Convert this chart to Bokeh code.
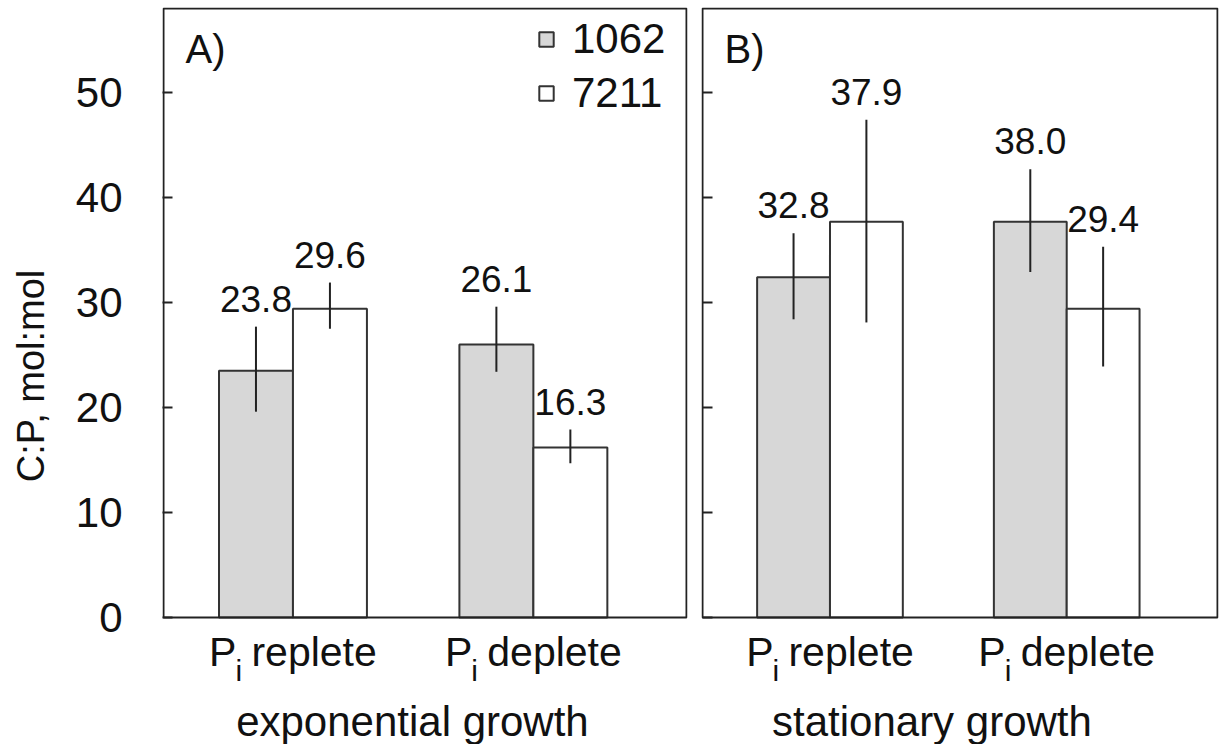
from bokeh.plotting import figure
from bokeh.models import (ColumnDataSource, LabelSet, Legend, LegendItem,
                          Range1d, FixedTicker, BoxAnnotation)
from bokeh.layouts import row
from bokeh.embed import file_html
from bokeh.resources import INLINE
from bokeh.core.properties import value

# ---------------- data ----------------
panel_letters = ["A)", "B)"]
growth_phases = ["exponential growth", "stationary growth"]
conditions = ["replete", "deplete"]
strains = ["1062", "7211"]
y_ticks = [0, 10, 20, 30, 40, 50]

# panel A: exponential growth (bar height, error low, error high, printed value)
a_1062 = [23.5, 26.0]
a_1062_lo = [19.6, 23.4]
a_1062_hi = [27.7, 29.6]
a_1062_txt = ["23.8", "26.1"]
a_7211 = [29.4, 16.2]
a_7211_lo = [27.5, 14.7]
a_7211_hi = [31.9, 17.9]
a_7211_txt = ["29.6", "16.3"]

# panel B: stationary growth
b_1062 = [32.4, 37.7]
b_1062_lo = [28.4, 32.9]
b_1062_hi = [36.6, 42.7]
b_1062_txt = ["32.8", "38.0"]
b_7211 = [37.7, 29.4]
b_7211_lo = [28.1, 23.9]
b_7211_hi = [47.4, 35.3]
b_7211_txt = ["37.9", "29.4"]

# ---------------- style / layout ----------------
FONT = "Liberation Sans"
TXT = "#111111"
GREY = "#d7d7d7"
EDGE = "#333333"
FRAME = "#222222"
GROUP_X = [1.75, 5.0]
BAR_W = 1.0
X_MAX = 7.07
Y_MAX = 58
PPY = 10.5            # px per y unit
ZERO_FROM_TOP = 610   # px from frame top to y = 0
BELOW_ZERO = 127      # px from y = 0 down to the canvas bottom
TOP = 7
H = 744

ADV = {'P': 0.667, 'r': 0.333, 'e': 0.556, 'p': 0.556, 'l': 0.222,
       't': 0.278, 'd': 0.556, 'i': 0.222, ' ': 0.278}


def text_w(s, size):
    return sum(ADV.get(c, 0.55) for c in s) * size


def labels(p, xs, ys, texts, size, align="left", x_off=0, y_off=0):
    src = ColumnDataSource(dict(x=xs, y=ys, t=texts))
    p.add_layout(LabelSet(x="x", y="y", text="t", source=src,
                          x_offset=x_off, y_offset=y_off,
                          text_align=align, text_baseline="alphabetic",
                          text_font=value(FONT), text_font_size=value(f"{size}px"),
                          text_color=TXT))


def make_panel(k, h1, lo1, hi1, t1, h2, lo2, hi2, t2, left, box_w, right, title_x):
    ppx = box_w / X_MAX
    p = figure(width=left + box_w + 2 + right, height=H,
               x_range=Range1d(-1 / ppx, X_MAX + 1 / ppx),
               y_range=Range1d(-BELOW_ZERO / PPY, ZERO_FROM_TOP / PPY),
               output_backend="svg", toolbar_location=None,
               x_axis_location=None,
               y_axis_location="left" if k == 0 else None,
               min_border_left=left, min_border_right=right,
               min_border_top=TOP, min_border_bottom=0)
    p.grid.visible = False
    p.outline_line_color = None
    p.background_fill_color = "white"
    p.border_fill_color = "white"

    if k == 0:
        ax = p.yaxis[0]
        ax.ticker = FixedTicker(ticks=y_ticks)
        ax.bounds = (-3.3, Y_MAX)
        ax.major_tick_in = 10
        ax.major_tick_out = 0
        ax.minor_tick_line_color = None
        ax.major_tick_line_color = FRAME
        ax.major_tick_line_width = 2
        ax.axis_line_color = None
        ax.major_label_text_font = FONT
        ax.major_label_text_font_size = "42px"
        ax.major_label_text_color = TXT
        ax.major_label_standoff = 40
        ax.axis_label = "C:P, mol:mol"
        ax.axis_label_text_font = FONT
        ax.axis_label_text_font_size = "38px"
        ax.axis_label_text_font_style = "normal"
        ax.axis_label_text_color = TXT
        ax.axis_label_standoff = 21
    else:
        # inward tick marks only, no labels
        p.segment(x0=[0] * len(y_ticks), x1=[10 / ppx] * len(y_ticks),
                  y0=y_ticks, y1=y_ticks, line_color=FRAME, line_width=2)

    x1 = [g - BAR_W / 2 for g in GROUP_X]
    x2 = [g + BAR_W / 2 for g in GROUP_X]
    s1 = ColumnDataSource(dict(x=x1, top=h1, lo=lo1, hi=hi1, txt=t1))
    s2 = ColumnDataSource(dict(x=x2, top=h2, lo=lo2, hi=hi2, txt=t2))

    r1 = p.vbar(x="x", top="top", bottom=0, width=BAR_W, source=s1,
                fill_color=GREY, line_color=EDGE, line_width=2)
    r2 = p.vbar(x="x", top="top", bottom=0, width=BAR_W, source=s2,
                fill_color="white", line_color=EDGE, line_width=2)
    for s in (s1, s2):
        p.segment(x0="x", y0="lo", x1="x", y1="hi", source=s,
                  line_color=FRAME, line_width=2)
        p.add_layout(LabelSet(x="x", y="hi", text="txt", source=s,
                              y_offset=15, text_align="center",
                              text_baseline="alphabetic",
                              text_font=value(FONT), text_font_size=value("37px"),
                              text_color=TXT))

    # panel frame
    p.add_layout(BoxAnnotation(left=0, right=X_MAX, bottom=0, top=Y_MAX,
                               fill_color=None, fill_alpha=0,
                               line_color=FRAME, line_alpha=1.0, line_width=2))

    # panel letter
    labels(p, [0], [Y_MAX], [panel_letters[k]], 40, x_off=22, y_off=-54)

    # category labels  P_i replete / P_i deplete
    F, FS = 41, 30
    px_, ix_, wx_ = [], [], []
    for g, cond in zip(GROUP_X, conditions):
        total = text_w("P", F) + 0.5 * FS + text_w(cond, F)
        start = -total / 2
        px_.append(g + start / ppx)
        ix_.append(g + (start + text_w("P", F) - 1) / ppx)
        wx_.append(g + (start + text_w("P", F) + 0.5 * FS) / ppx)
    n = len(conditions)
    labels(p, px_, [0] * n, ["P"] * n, F, y_off=-48)
    labels(p, ix_, [0] * n, ["i"] * n, FS, y_off=-63)
    labels(p, wx_, [0] * n, conditions, F, y_off=-48)

    # growth phase
    labels(p, [title_x], [0], [growth_phases[k]], 42, align="center", y_off=-118)

    if k == 0:
        legend = Legend(items=[LegendItem(label=strains[0], renderers=[r1]),
                               LegendItem(label=strains[1], renderers=[r2])],
                        location=(375, 627),
                        label_text_font=FONT, label_text_font_size="42px",
                        label_text_color=TXT,
                        glyph_width=18, glyph_height=18, label_standoff=17,
                        spacing=6, padding=0, margin=0,
                        border_line_color=None, background_fill_alpha=0)
        p.add_layout(legend)
    return p


pA = make_panel(0, a_1062, a_1062_lo, a_1062_hi, a_1062_txt,
                a_7211, a_7211_lo, a_7211_hi, a_7211_txt,
                left=162, box_w=523, right=4, title_x=3.365)
pB = make_panel(1, b_1062, b_1062_lo, b_1062_hi, b_1062_txt,
                b_7211, b_7211_lo, b_7211_hi, b_7211_txt,
                left=10, box_w=515, right=4, title_x=3.15)

layout = row(pA, pB)
open("out.html", "w").write(file_html(layout, INLINE))
